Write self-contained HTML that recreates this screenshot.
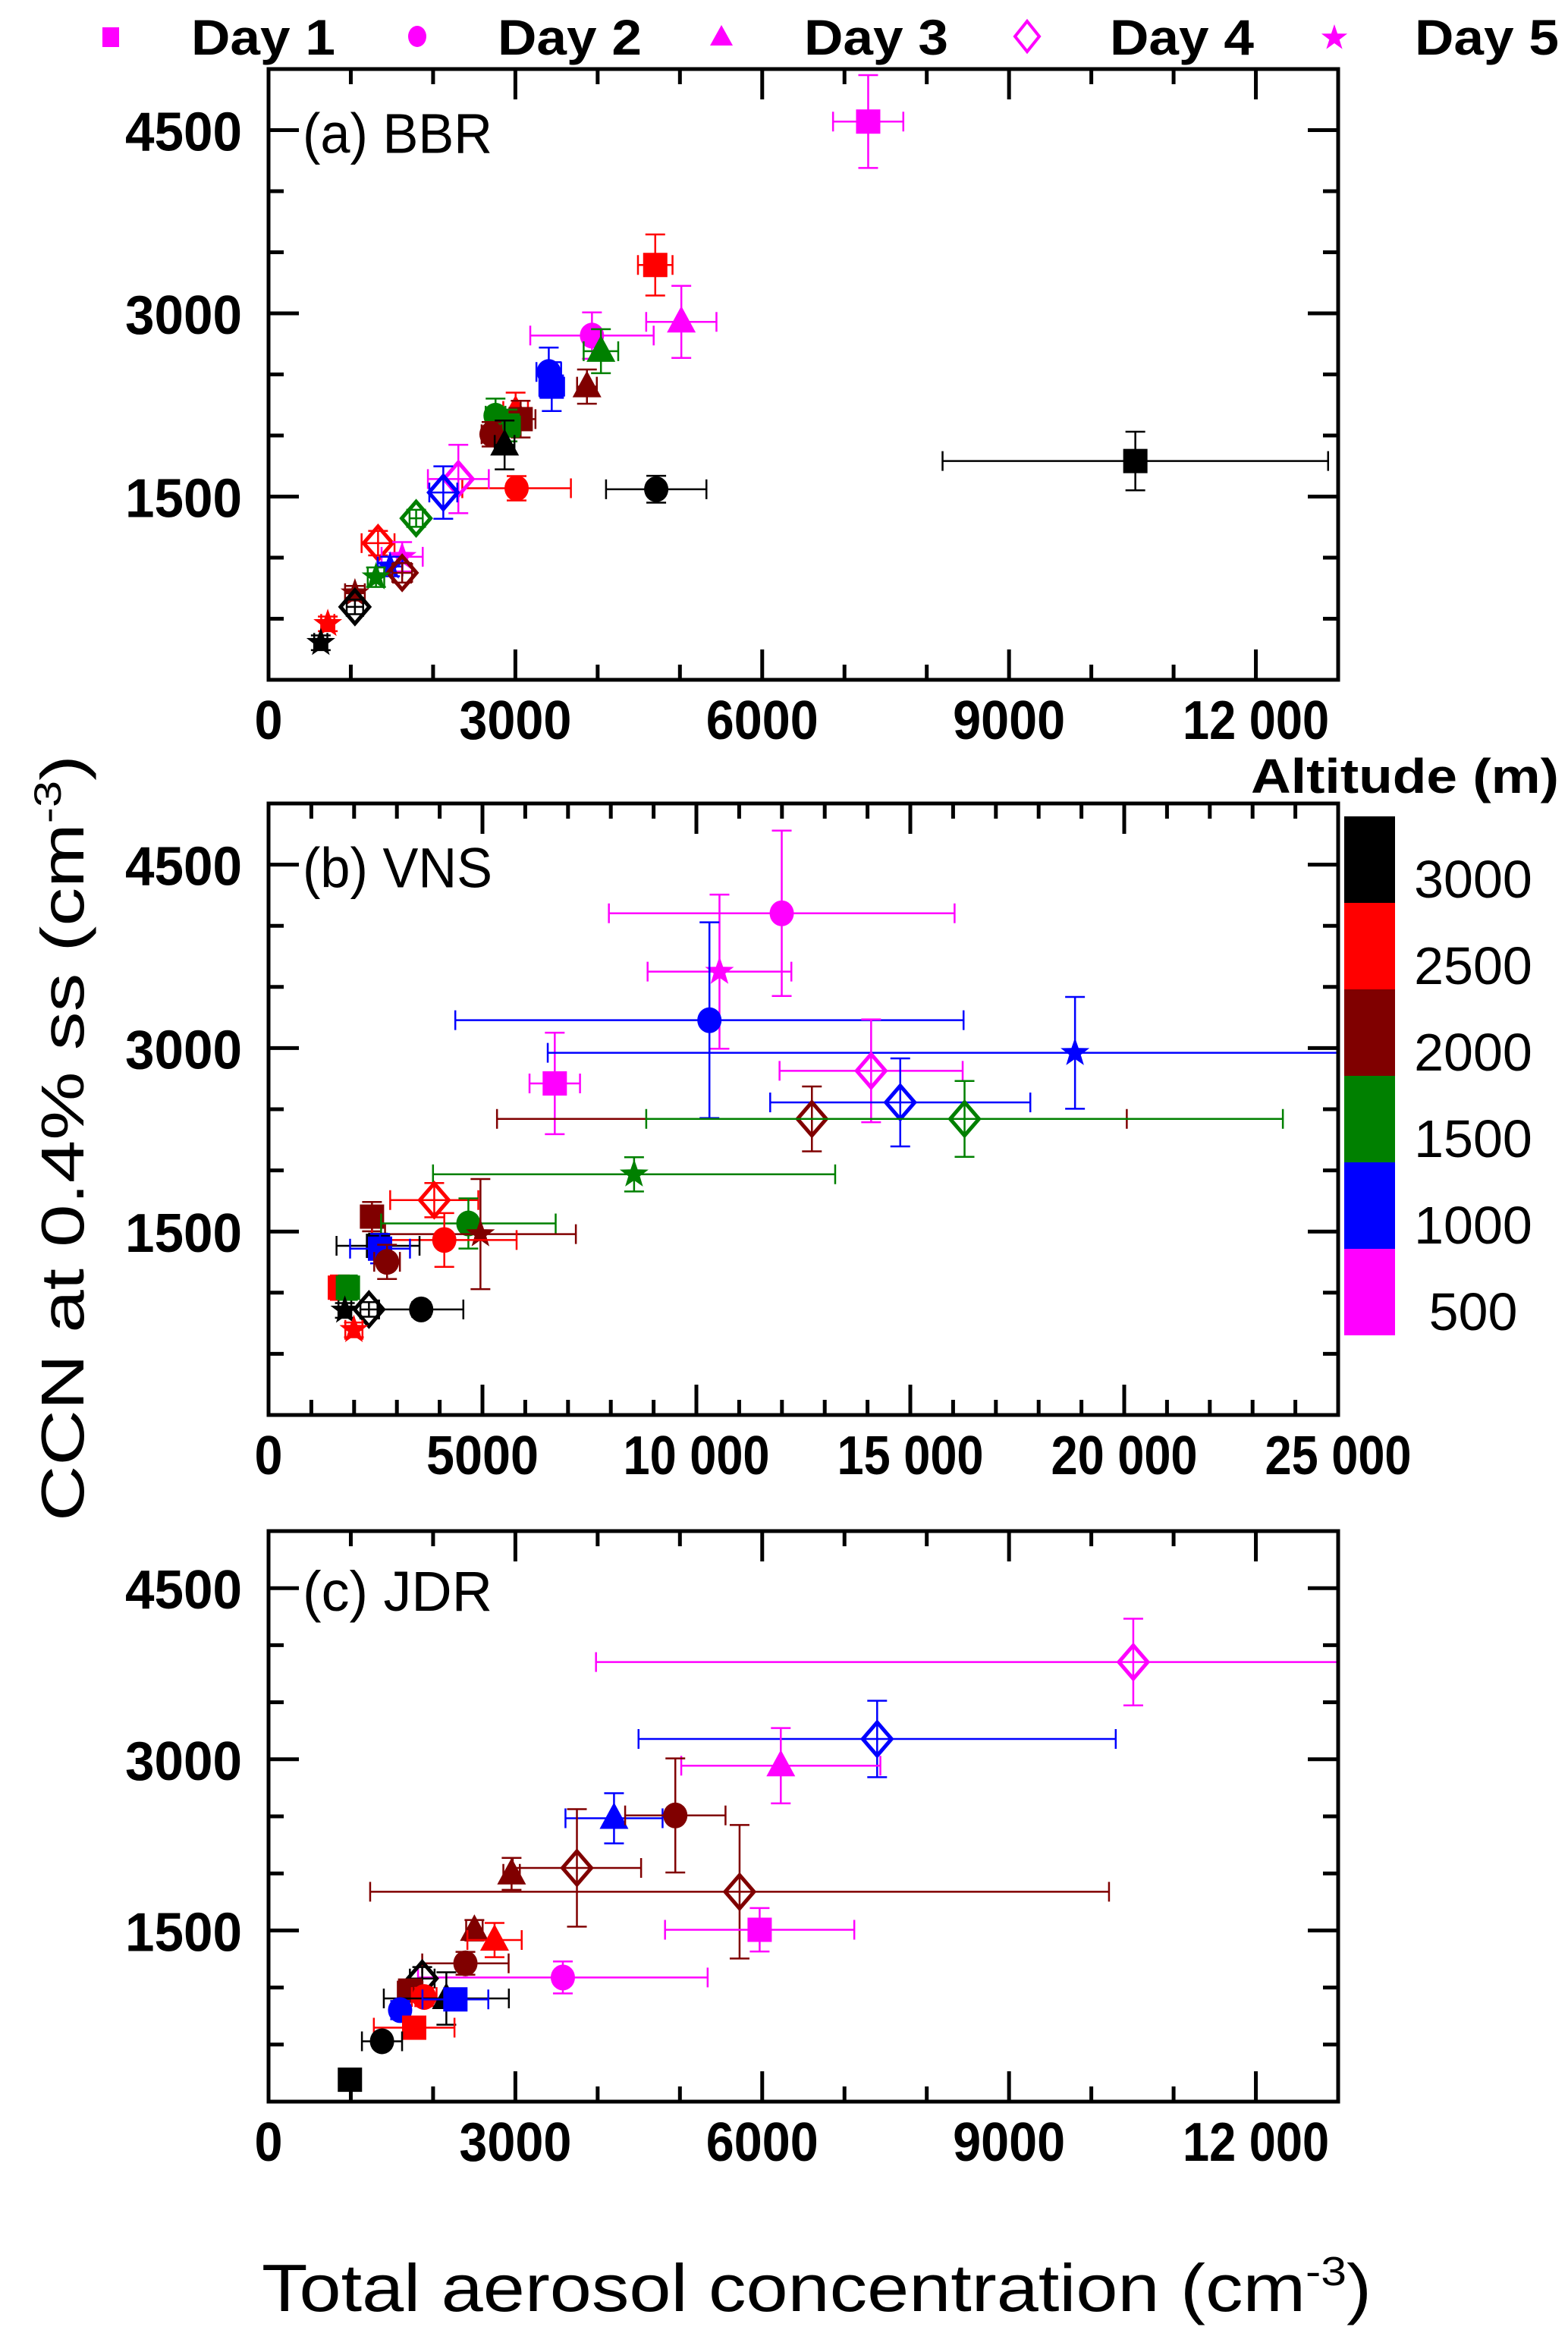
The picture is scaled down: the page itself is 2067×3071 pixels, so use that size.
<!DOCTYPE html>
<html><head><meta charset="utf-8"><style>
html,body{margin:0;padding:0;background:#fff;}
svg{display:block;}
</style></head>
<body>
<svg id="fig" xmlns="http://www.w3.org/2000/svg" width="2067" height="3071" viewBox="0 0 2067 3071" font-family="'Liberation Sans', sans-serif">
<defs>
<clipPath id="clipA"><rect x="354" y="91" width="1410" height="805"/></clipPath>
<clipPath id="clipB"><rect x="354" y="1059" width="1410" height="806"/></clipPath>
<clipPath id="clipC"><rect x="354" y="2018" width="1410" height="752"/></clipPath>
</defs>
<g id="legend"></g>
<g id="panelA"></g>
<g id="panelB"></g>
<g id="panelC"></g>
<g id="cbar"></g>
<text transform="translate(110,1500) rotate(-90)" text-anchor="middle" font-size="80" textLength="1010" lengthAdjust="spacingAndGlyphs">CCN at 0.4% ss (cm<tspan dy="-30" font-size="50">-3</tspan><tspan dy="30">)</tspan></text>
<text x="345" y="3046" font-size="88" textLength="1463" lengthAdjust="spacingAndGlyphs">Total aerosol concentration (cm<tspan dy="-34" font-size="54">-3</tspan><tspan dy="34">)</tspan></text>
</svg>
<script>
const NS='http://www.w3.org/2000/svg';
// colour key by altitude
const altLabels=['3000','2500','2000','1500','1000','500'];
const altColors=['#000000','#ff0000','#800000','#008000','#0000ff','#ff00ff'];
const dayLabels=['Day 1','Day 2','Day 3','Day 4','Day 5'];
const dayShapes=['square','circle','triangle','diamond','star'];
// color index: 0 black,1 red,2 darkred,3 green,4 blue,5 magenta
// Panel A (BBR)
const aX=[7288,4700,5017,3931,4040,3406,3442,3870,3003,3064,2759,2905,2710,2869,3015,4712,10535,2307,2124,1794,1331,1624,1477,1624,1306,1050,1050,720,635];
const aY=[4570,3396,2930,2818,2690,2520,2400,2400,2201,2134,2162,2082,2010,1923,1568,1560,1791,1644,1533,1322,1119,1007,928,876,840,709,597,458,303];
const aXe=[427,210,427,750,210,150,150,120,150,180,120,150,120,120,660,610,2343,370,170,80,200,250,150,120,100,120,100,80,80];
const aYe=[380,250,295,190,180,200,200,140,150,150,140,130,100,200,100,110,240,280,215,70,100,120,80,80,80,60,60,60,60];
const aC=[5,1,5,5,3,4,4,2,1,2,3,3,2,0,1,0,0,5,4,3,1,5,4,2,3,2,0,1,0];
const aS=['square','square','triangle','circle','triangle','circle','square','triangle','triangle','square','circle','square','circle','triangle','circle','circle','square','diamond','diamond','diamond','diamond','star','star','diamond','star','star','diamond','star','star'];
// Panel B (VNS)
const bX=[11995,10540,10305,6690,18850,14084,14765,12700,16268,8544,3873,2418,4671,4953,4108,2559,2606,2770,1667,1855,3568,2347,1784,1995];
const bY=[4102,3625,3228,2711,2961,2814,2556,2421,2421,1968,1757,1622,1566,1479,1431,1383,1360,1252,1041,1041,863,863,855,696];
const bXe=[4040,1680,5940,590,12324,2140,3040,7360,7440,4700,1030,150,2040,2230,1690,970,700,300,150,150,985,200,150,200];
const bYe=[676,630,800,415,457,420,360,265,310,140,140,120,205,450,220,100,120,140,100,100,60,60,60,60];
const bC=[5,5,4,5,4,5,4,2,3,3,1,2,3,2,1,0,4,2,1,3,0,0,0,1];
const bS=['circle','star','circle','square','star','diamond','diamond','diamond','diamond','star','diamond','square','circle','star','circle','square','square','circle','square','square','circle','diamond','star','star'];
// Panel C (JDR)
const cX=[10510,7397,6226,4199,4944,3748,2954,5725,5969,2502,2747,2393,3577,1868,1721,1892,2161,2271,1599,1770,1379,989];
const cY=[3852,3178,2944,2483,2508,2048,1996,1839,1506,1502,1416,1212,1088,1079,973,917,904,896,802,648,529,192];
const cXe=[6530,2900,1210,590,610,780,100,4490,1150,100,330,525,1760,150,150,150,760,400,100,490,244,60];
const cYe=[380,335,330,220,500,515,140,585,190,90,150,100,140,100,80,80,230,80,80,80,60,60];
const cC=[5,4,5,4,2,2,2,2,5,2,1,2,5,0,2,1,0,4,4,1,0,0];
const cS=['diamond','diamond','triangle','triangle','circle','diamond','triangle','diamond','square','triangle','triangle','circle','circle','diamond','square','circle','triangle','square','circle','square','circle','square'];
// axes ticks
const aXTicks=[0,3000,6000,9000,12000];
const aXTickLabels=['0','3000','6000','9000','12 000'];
const bXTicks=[0,5000,10000,15000,20000,25000];
const bXTickLabels=['0','5000','10 000','15 000','20 000','25 000'];
const yTicks=[1500,3000,4500];
const yTickLabels=['1500','3000','4500'];

function el(tag,attrs,parent){const e=document.createElementNS(NS,tag);for(const k in attrs)e.setAttribute(k,attrs[k]);if(parent)parent.appendChild(e);return e;}

function marker(g,shape,cx,cy,col){
  let m;
  if(shape==='square'){m=el('rect',{x:cx-16,y:cy-16,width:32,height:32,fill:col},g);}
  else if(shape==='circle'){m=el('ellipse',{cx:cx,cy:cy,rx:16,ry:17,fill:col},g);}
  else if(shape==='triangle'){m=el('polygon',{points:`${cx},${cy-21} ${cx+19},${cy+14} ${cx-19},${cy+14}`,fill:col},g);}
  else if(shape==='diamond'){m=el('polygon',{points:`${cx},${cy-22} ${cx+19},${cy} ${cx},${cy+22} ${cx-19},${cy}`,fill:'none',stroke:col,'stroke-width':5},g);}
  else {let p=[];for(let i=0;i<10;i++){const r=i%2?8:20;const a=-Math.PI/2+i*Math.PI/5;p.push((cx+r*Math.cos(a)).toFixed(1)+','+(cy+r*Math.sin(a)).toFixed(1));}
    m=el('polygon',{points:p.join(' '),fill:col},g);}
  
  
}

function panel(gid,clip,L,T,W,H,xmax,xs,ys,xe,ye,cs,ss,xt,xtl,minorX,label){
  const g=document.getElementById(gid);
  const sx=v=>L+v/xmax*W, sy=v=>T+H-v/5000*H;
  const pts=el('g',{'clip-path':`url(#${clip})`},g);
  
  
  for(let i=0;i<xs.length;i++){
    const col=altColors[cs[i]], x=sx(xs[i]), y=sy(ys[i]);
    const x1=sx(xs[i]-xe[i]), x2=sx(xs[i]+xe[i]), y1=sy(ys[i]+ye[i]), y2=sy(ys[i]-ye[i]);
    const eb=el('path',{d:`M${x1},${y}H${x2}M${x1},${y-13}V${y+13}M${x2},${y-13}V${y+13}M${x},${y1}V${y2}M${x-13},${y1}H${x+13}M${x-13},${y2}H${x+13}`,stroke:col,'stroke-width':2.5,fill:'none'},pts);
    
    
    marker(pts,ss[i],x,y,col);
  }
  const fr=el('rect',{x:L,y:T,width:W,height:H,fill:'none',stroke:'#000','stroke-width':5},g);
  
  
  let d='';
  for(let v=minorX;v<xmax;v+=minorX){const x=sx(v);const len=(v%xt[1]===0)?40:20;d+=`M${x},${T}v${len}M${x},${T+H}v${-len}`;}
  for(let v=500;v<5000;v+=500){const y=sy(v);const len=(v%1500===0)?40:20;d+=`M${L},${y}h${len}M${L+W},${y}h${-len}`;}
  const tk=el('path',{d:d,stroke:'#000','stroke-width':5,fill:'none'},g);
  
  
  for(let i=0;i<xt.length;i++){
    const t=el('text',{x:sx(xt[i]),y:T+H+78,'text-anchor':'middle','font-size':72,'font-weight':'bold',textLength:xtl[i].replace(' ','').length*37+(xtl[i].includes(' ')?8:0),lengthAdjust:'spacingAndGlyphs'},g);
    t.textContent=xtl[i];
    
    
  }
  for(let i=0;i<yTicks.length;i++){
    const t=el('text',{x:L-35,y:sy(yTicks[i])+27,'text-anchor':'end','font-size':72,'font-weight':'bold',textLength:154,lengthAdjust:'spacingAndGlyphs'},g);
    t.textContent=yTickLabels[i];
    
    
  }
  const pl=el('text',{x:L+45,y:sy(4500)+30,'font-size':74,textLength:250,lengthAdjust:'spacingAndGlyphs'},g);
  pl.textContent=label;
  
  
}
panel('panelA','clipA',354,91,1410,805,13000,aX,aY,aXe,aYe,aC,aS,aXTicks,aXTickLabels,1000,'(a) BBR');
panel('panelB','clipB',354,1059,1410,806,25000,bX,bY,bXe,bYe,bC,bS,bXTicks,bXTickLabels,1000,'(b) VNS');
panel('panelC','clipC',354,2018,1410,752,13000,cX,cY,cXe,cYe,cC,cS,aXTicks,aXTickLabels,1000,'(c) JDR');

// legend
const lg=document.getElementById('legend');
const legMX=[146,550,951,1354,1759], legTX=[252,656,1060,1463,1865];
for(let i=0;i<dayLabels.length;i++){
  const g=el('g',{},lg);
  
  
  if(dayShapes[i]==='square'){el('rect',{x:legMX[i]-11,y:36,width:22,height:26,fill:'#ff00ff'},g);}
  else if(dayShapes[i]==='circle'){el('ellipse',{cx:legMX[i],cy:48,rx:12,ry:14,fill:'#ff00ff'},g);}
  else if(dayShapes[i]==='triangle'){el('polygon',{points:`${legMX[i]},33 ${legMX[i]+15},60 ${legMX[i]-15},60`,fill:'#ff00ff'},g);}
  else if(dayShapes[i]==='diamond'){el('polygon',{points:`${legMX[i]},28 ${legMX[i]+16},48 ${legMX[i]},68 ${legMX[i]-16},48`,fill:'none',stroke:'#ff00ff','stroke-width':4},g);}
  else {let p=[];for(let k=0;k<10;k++){const r=k%2?7:18;const a=-Math.PI/2+k*Math.PI/5;p.push((legMX[i]+r*Math.cos(a)).toFixed(1)+','+(50+r*Math.sin(a)).toFixed(1));}el('polygon',{points:p.join(' '),fill:'#ff00ff'},g);}
  const t=el('text',{x:legTX[i],y:72,'font-size':66,'font-weight':'bold',textLength:190,lengthAdjust:'spacingAndGlyphs'},g);
  t.textContent=dayLabels[i];
}

// colorbar
const cb=document.getElementById('cbar');
const ct=el('text',{x:1649,y:1045,'font-size':64,'font-weight':'bold',textLength:406,lengthAdjust:'spacingAndGlyphs'},cb);
ct.textContent='Altitude (m)';


for(let i=0;i<altLabels.length;i++){
  const y0=1076+i*114;
  const r=el('rect',{x:1772,y:y0,width:67,height:114,fill:altColors[i]},cb);
  
  
  const t=el('text',{x:1942,y:y0+57+50,'text-anchor':'middle','font-size':70},cb);
  t.textContent=altLabels[i];
  
  
}
</script>
</body></html>
